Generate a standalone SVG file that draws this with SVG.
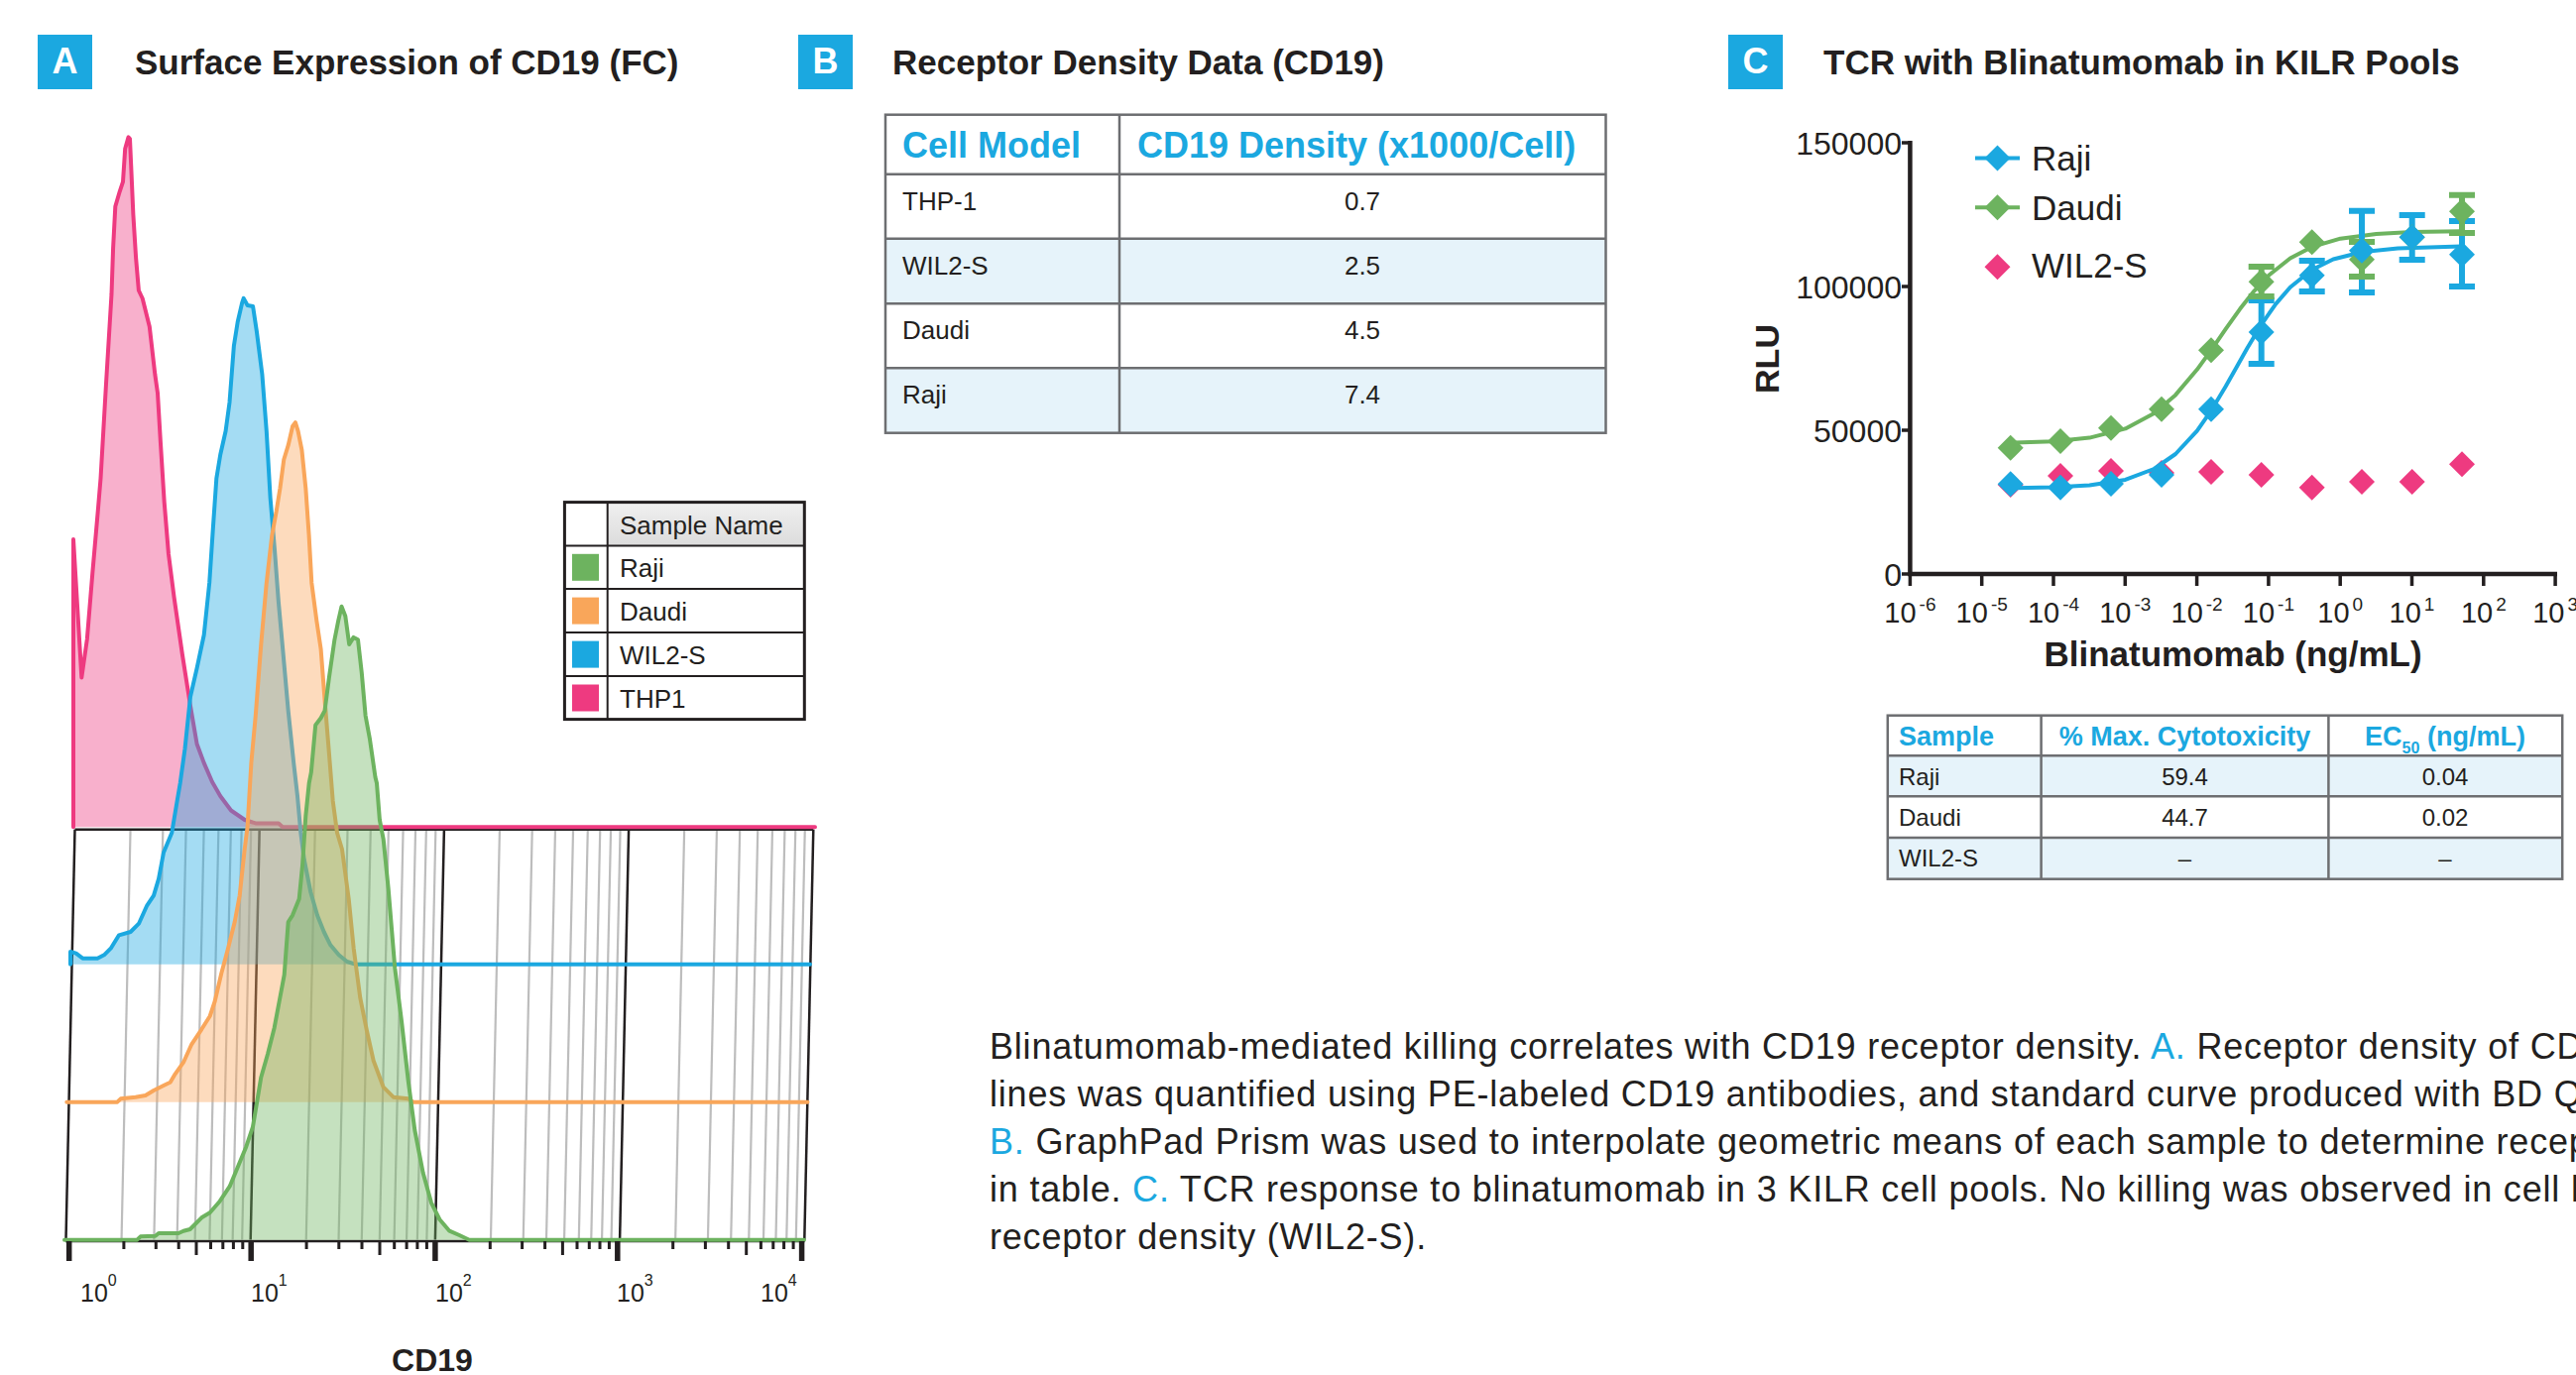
<svg xmlns="http://www.w3.org/2000/svg" xmlns:xlink="http://www.w3.org/1999/xlink" width="2598" height="1387" viewBox="0 0 2598 1387">
  <style>
    .f{font-family:"Liberation Sans",Arial,Helvetica,sans-serif;fill:#231f20}
    .bd{font-weight:bold}
    .hl{fill:#1ba8e0}
    .tag{fill:#1ba8e0}
    .tagtx{fill:#fff;font-weight:bold;font-size:36px;text-anchor:middle}
    .title{font-size:35px;font-weight:bold}
    .mid{text-anchor:middle}
    .end{text-anchor:end}
    .cell{stroke:#6d6e71;stroke-width:2.5;fill:none}
    .band{fill:#e6f3fa}
    .gmin{stroke:#bdbdbd;stroke-width:2.2}
    .gmaj{stroke:#231f20;stroke-width:2.5}
    .hist{stroke-width:4;stroke-linejoin:round;stroke-linecap:round;fill-opacity:0.4}
    .ax{stroke:#231f20;fill:none}
    .fit{fill:none;stroke-width:4;stroke-linecap:round;stroke-linejoin:round}
    .err{fill:none;stroke-width:6}
    .cap{font-size:36px;letter-spacing:0.8px}
  </style>
  <defs>
    <line id="gl" x1="9" y1="836.7" x2="0" y2="1250.5"/>
    <path id="dia" d="M0 -13L13 0L0 13L-13 0Z"/>
    <linearGradient id="hdr" x1="0" y1="0" x2="0" y2="1">
      <stop offset="0" stop-color="#f0f0f0"/>
      <stop offset="1" stop-color="#dcdcdc"/>
    </linearGradient>
  </defs>
  <rect width="2598" height="1387" fill="#fff"/>

  <!-- Panel A: overlaid flow cytometry histograms -->
  <g id="panel-a">
    <rect class="tag" x="38" y="35" width="55" height="55"/>
    <text class="f tagtx" x="65.5" y="74">A</text>
    <text class="f title" x="136" y="75">Surface Expression of CD19 (FC)</text>

    <g id="hist-grid">
      <g class="gmin">
        <use xlink:href="#gl" x="122.55"/><use xlink:href="#gl" x="155.34"/><use xlink:href="#gl" x="178.6"/><use xlink:href="#gl" x="196.65"/><use xlink:href="#gl" x="211.39"/><use xlink:href="#gl" x="223.86"/><use xlink:href="#gl" x="234.66"/><use xlink:href="#gl" x="244.18"/>
        <use xlink:href="#gl" x="308.75"/><use xlink:href="#gl" x="341.54"/><use xlink:href="#gl" x="364.8"/><use xlink:href="#gl" x="382.85"/><use xlink:href="#gl" x="397.59"/><use xlink:href="#gl" x="410.06"/><use xlink:href="#gl" x="420.86"/><use xlink:href="#gl" x="430.38"/>
        <use xlink:href="#gl" x="494.95"/><use xlink:href="#gl" x="527.74"/><use xlink:href="#gl" x="551.0"/><use xlink:href="#gl" x="569.05"/><use xlink:href="#gl" x="583.79"/><use xlink:href="#gl" x="596.26"/><use xlink:href="#gl" x="607.06"/><use xlink:href="#gl" x="616.58"/>
        <use xlink:href="#gl" x="681.15"/><use xlink:href="#gl" x="713.94"/><use xlink:href="#gl" x="737.2"/><use xlink:href="#gl" x="755.25"/><use xlink:href="#gl" x="769.99"/><use xlink:href="#gl" x="782.46"/><use xlink:href="#gl" x="793.26"/><use xlink:href="#gl" x="802.78"/>
      </g>
      <g class="gmaj">
        <use xlink:href="#gl" x="66.5"/><use xlink:href="#gl" x="252.7"/><use xlink:href="#gl" x="438.9"/><use xlink:href="#gl" x="625.1"/><use xlink:href="#gl" x="811.3"/>
        <line x1="75.5" y1="836.7" x2="820.3" y2="836.7"/>
        <line x1="66" y1="1252" x2="811.5" y2="1252"/>
      </g>
    </g>

    <g id="hist-thp1">
      <path class="hist" stroke="#ee3a80" fill="#ee3a80" d="M74,834.3 L74,544 L82.3,683.5 L87.8,645 L93.3,578 L98.7,516 L101.5,482.6 L107,387 L112.5,296.7 L114.1,250 L116.3,208.3 L120.7,193.3 L124,183.3 L126.2,150 L129.5,138.3 L131,140 L132.2,166.7 L134.4,216.7 L137.1,260 L139.9,293 L143.7,301 L150.8,329.6 L156.3,377.4 L159,396.5 L161.8,444.4 L165.7,506.6 L170,559 L175.5,602 L183.8,659.6 L192,712 L198.6,750.5 L205.7,769.6 L214,788.8 L222.2,803 L233,817.5 L246.8,827 L257.8,830.4 L280.9,830.4 L285,834.3 L822,834.3"/>
    </g>
    <g id="hist-wil2s">
      <path class="hist" stroke="#1ba8e0" fill="#1ba8e0" d="M71,972.7 L71,960 L76.7,961.7 L83.3,966.7 L98.3,966.7 L105,963.3 L111.7,956.7 L120,943.3 L131.7,940 L140,931.7 L148.3,913.3 L155,903.3 L160,886.7 L165,860 L173.3,840 L178.3,810 L181.7,790 L186.5,755.3 L192,702.7 L198.6,674 L205.7,640.5 L211.2,587.9 L215,530.5 L218.3,482.6 L222.2,458.7 L227.6,434.8 L231.5,406 L235.9,348.7 L239.7,324.8 L244.1,305.7 L245.7,300.9 L249.6,308 L255.1,309 L258.9,334.4 L264.4,377.4 L268.8,434.8 L272.6,501.8 L277,554.4 L280.9,607 L285.2,654.8 L290.7,717 L296.2,769.6 L300,803 L303.3,840 L306.7,866.7 L313.3,900 L320,923.3 L326.7,940 L333.3,953.3 L341.7,963.3 L350,970 L358.3,972.7 L817,972.7"/>
    </g>
    <g id="hist-daudi">
      <path class="hist" stroke="#f9a65a" fill="#f9a65a" d="M67.3,1111.7 L118.3,1111.7 L121.7,1108.3 L136.7,1106.7 L146.7,1105 L155,1100 L165,1095 L171.7,1091.7 L176.7,1083.3 L185,1071.7 L193.3,1053.3 L203.3,1038.3 L211.7,1025 L216.7,1010 L223.3,981.7 L230,956.7 L236.7,930 L241.7,903.3 L246.7,856.7 L249.6,834 L253.4,769.6 L257.8,721.8 L263.3,650 L268.8,587.9 L274.3,540 L278.7,516 L282.5,492.2 L286.3,463.5 L290.7,449.2 L295.1,430 L297.9,426.2 L300.6,434.8 L304.4,454 L308.3,492.2 L311.6,540 L314.3,587.9 L319.3,626 L323.6,654.8 L328,712 L331.9,760 L335.7,807.9 L340,840 L345,856.7 L351.7,906.7 L356.7,956.7 L363.3,1006.7 L370,1040 L376.7,1070 L386.7,1096.7 L396.7,1106.7 L411.7,1108.3 L416.7,1111.7 L814.5,1111.7"/>
    </g>
    <g id="hist-raji">
      <path class="hist" stroke="#6db35f" fill="#6db35f" d="M65,1250.7 L138.3,1250.7 L141.7,1247.3 L156.7,1246.7 L160,1244 L180,1244 L185,1241.7 L191.7,1240 L203.3,1228.3 L211.7,1223.3 L221.7,1211.7 L231.7,1196.7 L240,1176.7 L248.3,1156.7 L255,1136.7 L260,1106.7 L263.3,1086.7 L270,1063.3 L276.7,1036.7 L281.7,1010 L286.7,983.3 L290.7,930 L295,923.3 L301.7,906.7 L305,873.3 L308.3,823.3 L311.7,790 L313.8,779.2 L318.2,731.4 L323.6,724.2 L327.5,717 L331.9,683.5 L337.4,645.3 L341.2,626.1 L344.5,611.8 L348.3,621.4 L352.2,650 L356.6,642.9 L361,645.3 L364.8,678.8 L368.6,721.8 L373,745.7 L378.5,784 L380,790 L382.9,827 L386.7,846.7 L391.7,896.7 L398.3,976.7 L405,1030 L411.7,1090 L418.3,1140 L426.7,1183.3 L435,1213.3 L443.3,1230 L453.3,1241.7 L463.3,1246 L473.3,1250.7 L811,1250.7"/>
    </g>

    <g id="hist-axis">
      <g stroke="#231f20" stroke-width="5.5">
        <line x1="69.7" y1="1252" x2="69.7" y2="1272"/><line x1="253.2" y1="1252" x2="253.2" y2="1272"/><line x1="438.9" y1="1252" x2="438.9" y2="1272"/><line x1="622.8" y1="1252" x2="622.8" y2="1272"/><line x1="808.6" y1="1252" x2="808.6" y2="1272"/>
      </g>
      <g stroke="#231f20" stroke-width="3">
        <path d="M124.9,1252V1260M157.3,1252V1260M180.2,1252V1260M198,1252V1266M212.5,1252V1260M224.8,1252V1260M235.4,1252V1260M244.8,1252V1260"/>
        <path d="M309.1,1252V1260M341.8,1252V1260M365,1252V1260M383,1252V1266M397.7,1252V1260M410.1,1252V1260M420.9,1252V1260M430.4,1252V1260"/>
        <path d="M494.3,1252V1260M526.6,1252V1260M549.6,1252V1260M567.4,1252V1266M582,1252V1260M594.3,1252V1260M605,1252V1260M614.4,1252V1260"/>
        <path d="M678.7,1252V1260M711.4,1252V1260M734.7,1252V1260M752.7,1252V1266M767.4,1252V1260M779.8,1252V1260M790.6,1252V1260M800.1,1252V1260"/>
      </g>
      <g class="f" font-size="25">
        <text x="81" y="1313">10<tspan font-size="16" dy="-16">0</tspan></text>
        <text x="253" y="1313">10<tspan font-size="16" dy="-16">1</tspan></text>
        <text x="439" y="1313">10<tspan font-size="16" dy="-16">2</tspan></text>
        <text x="622" y="1313">10<tspan font-size="16" dy="-16">3</tspan></text>
        <text x="767" y="1313">10<tspan font-size="16" dy="-16">4</tspan></text>
      </g>
      <text class="f bd mid" x="436" y="1383" font-size="32">CD19</text>
    </g>

    <g id="hist-legend">
      <rect x="569.4" y="506.6" width="241.9" height="219" fill="#fff"/>
      <rect x="612.7" y="506.6" width="198.6" height="44" fill="url(#hdr)"/>
      <rect x="577" y="558.8" width="27" height="27" fill="#6db35f"/>
      <rect x="577" y="602.6" width="27" height="27" fill="#f9a65a"/>
      <rect x="577" y="646.6" width="27" height="27" fill="#1ba8e0"/>
      <rect x="577" y="690.5" width="27" height="27" fill="#ee3a80"/>
      <g stroke="#231f20" stroke-width="2">
        <line x1="612.7" y1="506.6" x2="612.7" y2="725.6"/>
        <line x1="569.4" y1="550.6" x2="811.3" y2="550.6"/>
        <line x1="569.4" y1="594.1" x2="811.3" y2="594.1"/>
        <line x1="569.4" y1="638.1" x2="811.3" y2="638.1"/>
        <line x1="569.4" y1="682.1" x2="811.3" y2="682.1"/>
      </g>
      <rect x="569.4" y="506.6" width="241.9" height="219" fill="none" stroke="#231f20" stroke-width="3"/>
      <g class="f" font-size="26">
        <text x="625" y="538.5">Sample Name</text>
        <text x="625" y="581.8">Raji</text>
        <text x="625" y="625.6">Daudi</text>
        <text x="625" y="669.6">WIL2-S</text>
        <text x="625" y="713.5">THP1</text>
      </g>
    </g>
  </g>

  <!-- Panel B: receptor density table -->
  <g id="panel-b">
    <rect class="tag" x="805" y="35" width="55" height="55"/>
    <text class="f tagtx" x="832.5" y="74">B</text>
    <text class="f title" x="900" y="75">Receptor Density Data (CD19)</text>
    <g id="density-table">
      <rect x="893" y="115.7" width="726.5" height="321" fill="#fff"/>
      <rect class="band" x="893" y="240.7" width="726.5" height="65.6"/>
      <rect class="band" x="893" y="371.3" width="726.5" height="65.4"/>
      <g class="cell">
        <rect x="893" y="115.7" width="726.5" height="321"/>
        <path d="M1129,115.7V436.7M893,175.7H1619.5M893,240.7H1619.5M893,306.3H1619.5M893,371.3H1619.5"/>
      </g>
      <g class="f bd hl" font-size="36">
        <text x="910" y="159.3">Cell Model</text>
        <text x="1147" y="159.3">CD19 Density (x1000/Cell)</text>
      </g>
      <g class="f" font-size="26">
        <text x="910" y="212.3">THP-1</text><text class="mid" x="1374" y="212.3">0.7</text>
        <text x="910" y="276.7">WIL2-S</text><text class="mid" x="1374" y="276.7">2.5</text>
        <text x="910" y="341.7">Daudi</text><text class="mid" x="1374" y="341.7">4.5</text>
        <text x="910" y="406.7">Raji</text><text class="mid" x="1374" y="406.7">7.4</text>
      </g>
    </g>
  </g>

  <!-- Panel C: dose-response chart and summary table -->
  <g id="panel-c">
    <rect class="tag" x="1743" y="35" width="55" height="55"/>
    <text class="f tagtx" x="1770.5" y="74">C</text>
    <text class="f title" x="1839" y="75">TCR with Blinatumomab in KILR Pools</text>

    <g id="chart-axes">
      <path class="ax" stroke-width="4.5" d="M1926.4,142V579H2579"/>
      <path class="ax" stroke-width="3.5" d="M1926.4,579V591M1998.7,579V591M2071,579V591M2143.3,579V591M2215.6,579V591M2287.9,579V591M2360.2,579V591M2432.5,579V591M2504.8,579V591M2577.1,579V591"/>
      <path class="ax" stroke-width="3.5" d="M1918,144H1926.4M1918,289H1926.4M1918,434H1926.4M1918,579H1926.4"/>
      <g class="f end" font-size="32">
        <text x="1918" y="156">150000</text>
        <text x="1918" y="301">100000</text>
        <text x="1918" y="446">50000</text>
        <text x="1918" y="591">0</text>
      </g>
      <g class="f mid" font-size="29">
        <text x="1926.4" y="628">10<tspan font-size="19" dx="3" dy="-12">-6</tspan></text>
        <text x="1998.7" y="628">10<tspan font-size="19" dx="3" dy="-12">-5</tspan></text>
        <text x="2071" y="628">10<tspan font-size="19" dx="3" dy="-12">-4</tspan></text>
        <text x="2143.3" y="628">10<tspan font-size="19" dx="3" dy="-12">-3</tspan></text>
        <text x="2215.6" y="628">10<tspan font-size="19" dx="3" dy="-12">-2</tspan></text>
        <text x="2287.9" y="628">10<tspan font-size="19" dx="3" dy="-12">-1</tspan></text>
        <text x="2360.2" y="628">10<tspan font-size="19" dx="3" dy="-12">0</tspan></text>
        <text x="2432.5" y="628">10<tspan font-size="19" dx="3" dy="-12">1</tspan></text>
        <text x="2504.8" y="628">10<tspan font-size="19" dx="3" dy="-12">2</tspan></text>
        <text x="2577.1" y="628">10<tspan font-size="19" dx="3" dy="-12">3</tspan></text>
      </g>
      <text class="f bd mid" x="2252" y="672" font-size="35">Blinatumomab (ng/mL)</text>
      <text class="f bd mid" transform="translate(1794,362) rotate(-90)" font-size="34">RLU</text>
    </g>

    <g id="series-wil2s" fill="#ee3a80">
      <use xlink:href="#dia" x="2027.7" y="489"/><use xlink:href="#dia" x="2078" y="480"/><use xlink:href="#dia" x="2129" y="475"/><use xlink:href="#dia" x="2180" y="477"/><use xlink:href="#dia" x="2230" y="476"/><use xlink:href="#dia" x="2280.7" y="479"/><use xlink:href="#dia" x="2331.7" y="491.7"/><use xlink:href="#dia" x="2382" y="486"/><use xlink:href="#dia" x="2432.7" y="486"/><use xlink:href="#dia" x="2483" y="468.3"/>
    </g>
    <g id="fit-daudi">
      <path class="fit" stroke="#6db35f" d="M2026.4,446.8 L2071.2,445.2 L2107.35,441.6 L2143.5,432.4 L2172.4,417.1 L2194.1,398.4 L2215.8,372.8 L2230.3,352.8 L2244.7,331.9 L2259.2,311.6 L2273.6,293.3 L2288.1,277.8 L2309.8,260.5 L2331.5,249.2 L2360.4,240.7 L2396.6,236 L2432.7,234.1 L2481.9,233.2"/>
    </g>
    <g id="fit-raji">
      <path class="fit" stroke="#1ba8e0" d="M2026.4,492.4 L2071.2,491.6 L2107.35,489.6 L2143.5,483.9 L2172.4,473 L2194.1,458 L2215.8,434.6 L2230.3,413.8 L2244.7,389.8 L2255.6,370.5 L2266.4,351.3 L2280.9,327.1 L2295.4,306.4 L2309.8,289.7 L2331.5,272.2 L2353.2,261.5 L2382.1,254.2 L2418.3,250.4 L2481.9,248.6"/>
    </g>
    <g id="errors-raji" class="err" stroke="#1ba8e0">
      <path d="M2280.7,303V367M2267.7,303H2293.7M2267.7,367H2293.7"/>
      <path d="M2331.7,263V294M2318.7,263H2344.7M2318.7,294H2344.7"/>
      <path d="M2382,212.7V295M2369,212.7H2395M2369,295H2395"/>
      <path d="M2432.7,217V262M2419.7,217H2445.7M2419.7,262H2445.7"/>
      <path d="M2483,223V289M2470,223H2496M2470,289H2496"/>
    </g>
    <g id="errors-daudi" class="err" stroke="#6db35f">
      <path d="M2280.7,269V299M2267.7,269H2293.7M2267.7,299H2293.7"/>
      <path d="M2382,244V279M2369,244H2395M2369,279H2395"/>
      <path d="M2483,196.7V235M2470,196.7H2496M2470,235H2496"/>
    </g>
    <g id="series-daudi" fill="#6db35f">
      <use xlink:href="#dia" x="2027.7" y="451.7"/><use xlink:href="#dia" x="2078" y="445"/><use xlink:href="#dia" x="2129" y="431.7"/><use xlink:href="#dia" x="2180" y="412.7"/><use xlink:href="#dia" x="2230" y="353.3"/><use xlink:href="#dia" x="2280.7" y="284.3"/><use xlink:href="#dia" x="2331.7" y="244.3"/><use xlink:href="#dia" x="2382" y="261.7"/><use xlink:href="#dia" x="2432.7" y="239.3"/><use xlink:href="#dia" x="2483" y="213.3"/>
    </g>
    <g id="series-raji" fill="#1ba8e0">
      <use xlink:href="#dia" x="2027.7" y="488.3"/><use xlink:href="#dia" x="2078" y="491.7"/><use xlink:href="#dia" x="2129" y="488"/><use xlink:href="#dia" x="2180" y="479"/><use xlink:href="#dia" x="2230" y="412.7"/><use xlink:href="#dia" x="2280.7" y="335"/><use xlink:href="#dia" x="2331.7" y="277.7"/><use xlink:href="#dia" x="2382" y="252.7"/><use xlink:href="#dia" x="2432.7" y="239.3"/><use xlink:href="#dia" x="2483" y="256.7"/>
    </g>

    <g id="chart-legend">
      <line x1="1992" y1="159.4" x2="2037" y2="159.4" stroke="#1ba8e0" stroke-width="4"/>
      <use xlink:href="#dia" x="2014.5" y="159.4" fill="#1ba8e0"/>
      <line x1="1992" y1="209.3" x2="2037" y2="209.3" stroke="#6db35f" stroke-width="4"/>
      <use xlink:href="#dia" x="2014.5" y="209.3" fill="#6db35f"/>
      <use xlink:href="#dia" x="2014.5" y="269.3" fill="#ee3a80"/>
      <g class="f" font-size="35">
        <text x="2049" y="172">Raji</text>
        <text x="2049" y="221.7">Daudi</text>
        <text x="2049" y="280">WIL2-S</text>
      </g>
    </g>

    <g id="cytotox-table">
      <rect x="1903.8" y="721.7" width="680.4" height="165" fill="#fff"/>
      <rect class="band" x="1903.8" y="762.3" width="680.4" height="41"/>
      <rect class="band" x="1903.8" y="845" width="680.4" height="41.7"/>
      <g class="cell">
        <rect x="1903.8" y="721.7" width="680.4" height="165"/>
        <path d="M2058.6,721.7V886.7M2348.4,721.7V886.7M1903.8,762.3H2584.2M1903.8,803.3H2584.2M1903.8,845H2584.2"/>
      </g>
      <g class="f bd hl" font-size="27">
        <text x="1915" y="751.7">Sample</text>
        <text class="mid" x="2203.5" y="751.7">% Max. Cytotoxicity</text>
        <text class="mid" x="2466" y="751.7">EC<tspan font-size="16" dy="8">50</tspan><tspan dy="-8"> (ng/mL)</tspan></text>
      </g>
      <g class="f" font-size="24">
        <text x="1915" y="791.7">Raji</text><text class="mid" x="2203.5" y="791.7">59.4</text><text class="mid" x="2466" y="791.7">0.04</text>
        <text x="1915" y="832.7">Daudi</text><text class="mid" x="2203.5" y="832.7">44.7</text><text class="mid" x="2466" y="832.7">0.02</text>
        <text x="1915" y="874">WIL2-S</text><text class="mid" x="2203.5" y="874">–</text><text class="mid" x="2466" y="874">–</text>
      </g>
    </g>
  </g>

  <!-- Figure caption -->
  <g id="caption" class="f cap">
    <text x="998" y="1067.5">Blinatumomab-mediated killing correlates with CD19 receptor density. <tspan class="hl">A.</tspan> Receptor density of CD</text>
    <text x="998" y="1115.5">lines was quantified using PE-labeled CD19 antibodies, and standard curve produced with BD Q</text>
    <text x="998" y="1163.5"><tspan class="hl">B.</tspan> GraphPad Prism was used to interpolate geometric means of each sample to determine recep</text>
    <text x="998" y="1211.5">in table. <tspan class="hl">C.</tspan> TCR response to blinatumomab in 3 KILR cell pools. No killing was observed in cell li</text>
    <text x="998" y="1259.5">receptor density (WIL2-S).</text>
  </g>
</svg>
